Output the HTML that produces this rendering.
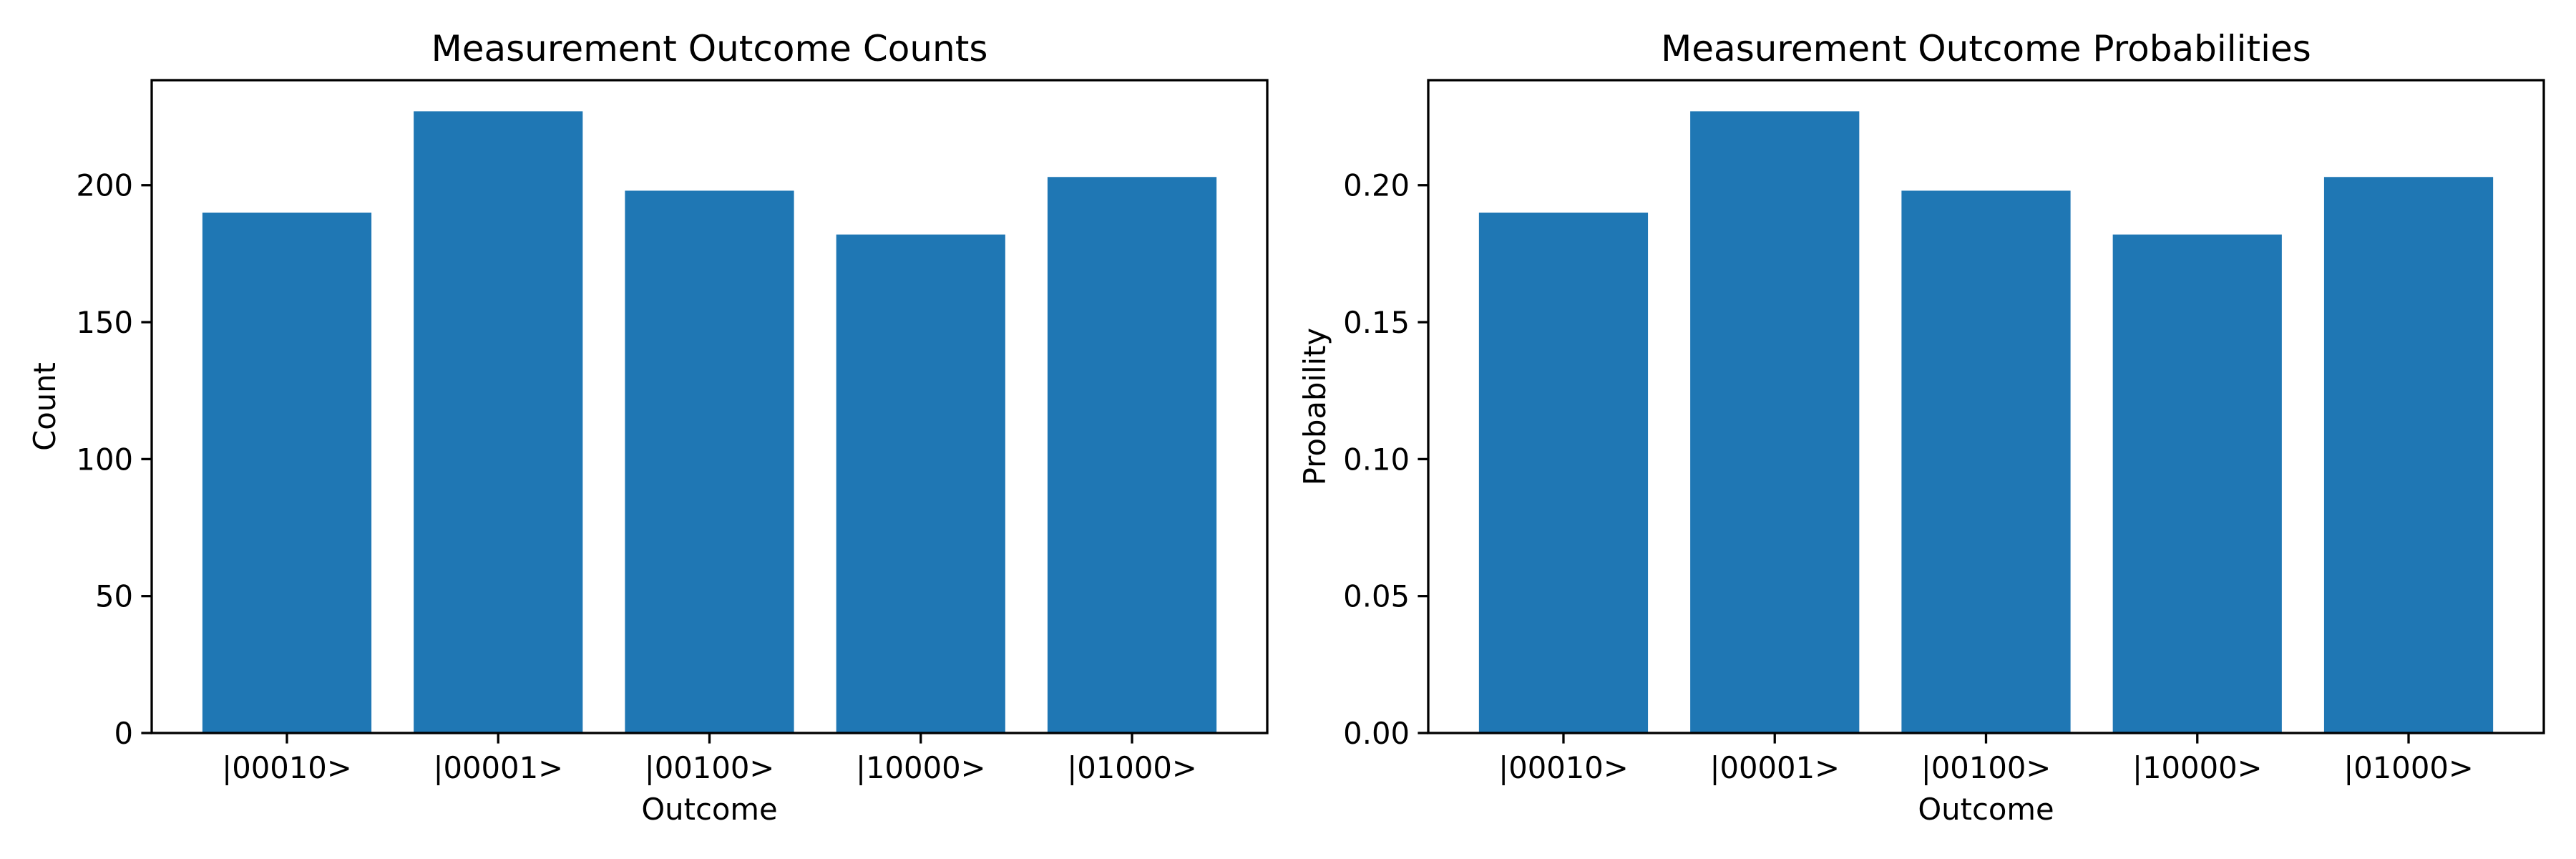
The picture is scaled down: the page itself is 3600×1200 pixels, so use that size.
<!DOCTYPE html>
<html><head><meta charset="utf-8"><style>
html,body{margin:0;padding:0;background:#fff;}
svg{display:block;font-family:"DejaVu Sans","Liberation Sans",sans-serif;}
</style></head><body>
<svg id="fig" width="3600" height="1200" viewBox="0 0 3600 1200" xmlns="http://www.w3.org/2000/svg"></svg>
<script>
const categories = ["|00010>", "|00001>", "|00100>", "|10000>", "|01000>"];
const counts = [190, 227, 198, 182, 203];
const probabilities = [0.190, 0.227, 0.198, 0.182, 0.203];
const countTicks = [0, 50, 100, 150, 200];
const countTickLabels = ["0", "50", "100", "150", "200"];
const probTicks = [0, 0.05, 0.10, 0.15, 0.20];
const probTickLabels = ["0.00", "0.05", "0.10", "0.15", "0.20"];

const NS = "http://www.w3.org/2000/svg";
const svg = document.getElementById("fig");
function mk(tag, attrs, parent) {
  const e = document.createElementNS(NS, tag);
  for (const k in attrs) e.setAttribute(k, attrs[k]);
  (parent || svg).appendChild(e);
  return e;
}
function panel(cfg) {
  const g = mk("g", {});
  
  
  const L = cfg.left, R = cfg.right, T = 112, B = 1024;
  const ymax = Math.max(...cfg.values) * 1.05;
  const xmin = -0.64, xmax = categories.length - 1 + 0.64;
  const xs = v => L + (v - xmin) / (xmax - xmin) * (R - L);
  const ys = v => B - v / ymax * (B - T);
  const unit = xs(1) - xs(0);
  cfg.values.forEach((v, i) => {
    const r = mk("rect", {x: xs(i) - 0.4 * unit, y: ys(v), width: 0.8 * unit, height: B - ys(v), fill: "#1f77b4"}, g);
    
    
  });
  cfg.ticks.forEach((t, i) => {
    const y = ys(t);
    const tk = mk("line", {x1: L - 14.6, x2: L, y1: y, y2: y, stroke: "#000", "stroke-width": 3.3}, g);
    
    
    const tx = mk("text", {x: L - 26, y: y + 15, "text-anchor": "end", "font-size": 41.7}, g);
    tx.textContent = cfg.tickLabels[i];
    
    
  });
  categories.forEach((c, i) => {
    const x = xs(i);
    const tk = mk("line", {x1: x, x2: x, y1: B, y2: B + 14.6, stroke: "#000", "stroke-width": 3.3}, g);
    
    
    const tx = mk("text", {x: x, y: B + 63, "text-anchor": "middle", "font-size": 41.7}, g);
    tx.textContent = c;
    
    
  });
  const fr = mk("rect", {x: L, y: T, width: R - L, height: B - T, fill: "none", stroke: "#000", "stroke-width": 3.3}, g);
  
  
  const ti = mk("text", {x: (L + R) / 2, y: 85, "text-anchor": "middle", "font-size": 50}, g);
  ti.textContent = cfg.title;
  
  
  const xl = mk("text", {x: (L + R) / 2, y: 1145, "text-anchor": "middle", "font-size": 41.7}, g);
  xl.textContent = "Outcome";
  
  
  const cy = (T + B) / 2;
  const yl = mk("text", {x: cfg.ylabelX, y: cy, "text-anchor": "middle", "font-size": 41.7, transform: "rotate(-90 " + cfg.ylabelX + " " + cy + ")"}, g);
  yl.textContent = cfg.ylabel;
  
  
}
panel({name: "counts-chart", left: 212, right: 1771, values: counts, ticks: countTicks, tickLabels: countTickLabels, title: "Measurement Outcome Counts", ylabel: "Count", ylabelX: 77});
panel({name: "probabilities-chart", left: 1996, right: 3555, values: probabilities, ticks: probTicks, tickLabels: probTickLabels, title: "Measurement Outcome Probabilities", ylabel: "Probability", ylabelX: 1852});
</script>
</body></html>
